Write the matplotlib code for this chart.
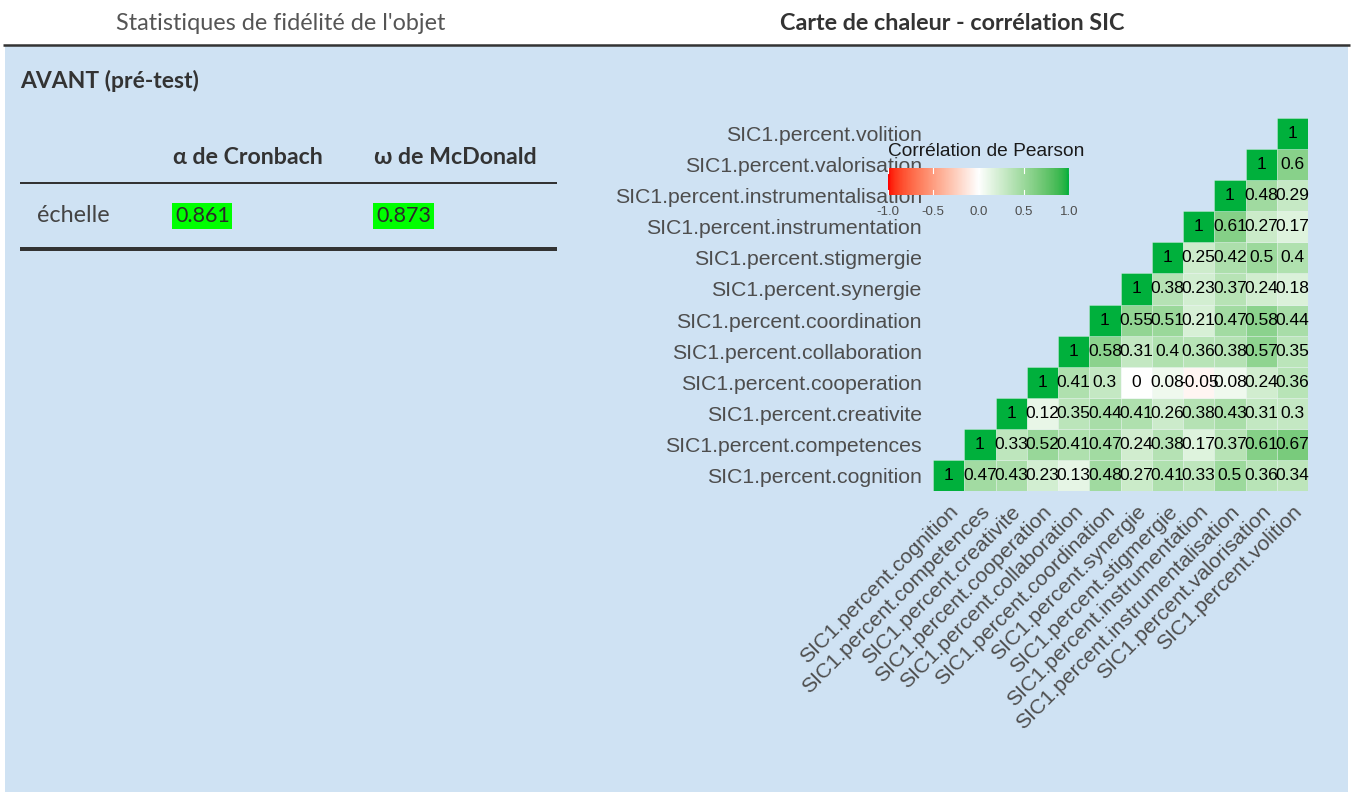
import numpy as np
import matplotlib
matplotlib.use("Agg")
import matplotlib.pyplot as plt
from matplotlib.colors import ListedColormap, to_rgb
from matplotlib.patches import Rectangle

# ---------------------------------------------------------------- data
variables = ["cognition", "competences", "creativite", "cooperation",
             "collaboration", "coordination", "synergie", "stigmergie",
             "instrumentation", "instrumentalisation", "valorisation",
             "volition"]
var_labels = ["SIC1.percent." + v for v in variables]

# Pearson correlations, row i holds r(i, j) for j >= i
row_cognition = [1, 0.47, 0.43, 0.23, 0.13, 0.48, 0.27, 0.41, 0.33, 0.5, 0.36, 0.34]
row_competences = [1, 0.33, 0.52, 0.41, 0.47, 0.24, 0.38, 0.17, 0.37, 0.61, 0.67]
row_creativite = [1, 0.12, 0.35, 0.44, 0.41, 0.26, 0.38, 0.43, 0.31, 0.3]
row_cooperation = [1, 0.41, 0.3, 0, 0.08, -0.05, 0.08, 0.24, 0.36]
row_collaboration = [1, 0.58, 0.31, 0.4, 0.36, 0.38, 0.57, 0.35]
row_coordination = [1, 0.55, 0.51, 0.21, 0.47, 0.58, 0.44]
row_synergie = [1, 0.38, 0.23, 0.37, 0.24, 0.18]
row_stigmergie = [1, 0.25, 0.42, 0.5, 0.4]
row_instrumentation = [1, 0.61, 0.27, 0.17]
row_instrumentalisation = [1, 0.48, 0.29]
row_valorisation = [1, 0.6]
row_volition = [1]

corr_rows = [row_cognition, row_competences, row_creativite, row_cooperation,
             row_collaboration, row_coordination, row_synergie, row_stigmergie,
             row_instrumentation, row_instrumentalisation, row_valorisation,
             row_volition]

# reliability table
table_columns = ["α de Cronbach", "ω de McDonald"]
table_row_label = "échelle"
table_values = [0.861, 0.873]

legend_ticks = [-1.0, -0.5, 0.0, 0.5, 1.0]

# ---------------------------------------------------------------- colours
BG_BLUE = "#cfe2f3"
LOW, MID, HIGH = "#ff0000", "#ffffff", "#00b03c"


def _srgb_to_lab(rgb):
    rgb = np.asarray(rgb, dtype=float)
    lin = np.where(rgb <= 0.04045, rgb / 12.92, ((rgb + 0.055) / 1.055) ** 2.4)
    m = np.array([[0.4124, 0.3576, 0.1805],
                  [0.2126, 0.7152, 0.0722],
                  [0.0193, 0.1192, 0.9505]])
    xyz = m @ lin / np.array([0.95047, 1.0, 1.08883])
    f = np.where(xyz > 216 / 24389, np.cbrt(xyz), (24389 / 27 * xyz + 16) / 116)
    return np.array([116 * f[1] - 16, 500 * (f[0] - f[1]), 200 * (f[1] - f[2])])


def _lab_to_srgb(lab):
    L, a, b = lab
    fy_ = (L + 16) / 116
    f = np.array([fy_ + a / 500, fy_, fy_ - b / 200])
    xyz = np.where(f ** 3 > 216 / 24389, f ** 3, (116 * f - 16) / (24389 / 27))
    xyz = xyz * np.array([0.95047, 1.0, 1.08883])
    m = np.array([[3.2406, -1.5372, -0.4986],
                  [-0.9689, 1.8758, 0.0415],
                  [0.0557, -0.2040, 1.0570]])
    lin = np.clip(m @ xyz, 0, 1)
    rgb = np.where(lin <= 0.0031308, 12.92 * lin, 1.055 * lin ** (1 / 2.4) - 0.055)
    return np.clip(rgb, 0, 1)


def diverging_lab_cmap(low, mid, high, n=256):
    lab_low, lab_mid, lab_high = (_srgb_to_lab(to_rgb(c)) for c in (low, mid, high))
    cols = []
    for t in np.linspace(-1, 1, n):
        if t < 0:
            lab = lab_mid + (lab_low - lab_mid) * (-t)
        else:
            lab = lab_mid + (lab_high - lab_mid) * t
        cols.append(_lab_to_srgb(lab))
    return ListedColormap(cols)


cmap = diverging_lab_cmap(LOW, MID, HIGH)

# ---------------------------------------------------------------- figure
W, H = 1353, 792
fig = plt.figure(figsize=(W / 100, H / 100), dpi=100)
fig.patch.set_facecolor("white")


def fx(px):
    return px / W


def fy(py):
    return 1 - py / H


def lw(px):
    return px * 72 / 100


# page layer in pixel coordinates
page = fig.add_axes([0, 0, 1, 1], zorder=0)
page.set_xlim(0, W)
page.set_ylim(H, 0)
page.axis("off")

page.add_patch(Rectangle((5, 46), W - 10, H - 46, facecolor=BG_BLUE,
                         edgecolor="none"))
page.plot([3, W - 3], [45, 45], color="#333333", lw=lw(2.5),
          solid_capstyle="butt")

SANS = ["Lato", "DejaVu Sans"]
page.text(281, 23, "Statistiques de fidélité de l'objet", ha="center",
          va="center", fontsize=16.8, color="#555555", family=SANS)
page.text(952, 23, "Carte de chaleur - corrélation SIC", ha="center",
          va="center", fontsize=16.8, color="#333333", fontweight="bold",
          family=SANS)
page.text(20, 81, "AVANT (pré-test)", ha="left", va="center", fontsize=16.5,
          color="#333333", fontweight="bold", family=SANS)

# reliability table
col_x = [173, 374]
for x, name in zip(col_x, table_columns):
    page.text(x, 158, name, ha="left", va="center", fontsize=16.7,
              color="#333333", fontweight="bold",
              family=["Lato", "DejaVu Serif"])
page.plot([20, 557], [182.5, 182.5], color="#333333", lw=lw(2),
          solid_capstyle="butt")
page.text(37, 216, table_row_label, ha="left", va="center", fontsize=16.8,
          color="#444444", family=SANS)
for x, v in zip(col_x, table_values):
    t = page.text(x + 2, 216, f"{v:.3f}", ha="left", va="center",
                  fontsize=15.5, color="#2a2a2a", family=SANS)
    t.set_bbox(dict(facecolor="#00ff00", edgecolor="none", pad=1.8))
page.plot([20, 557], [248.5, 248.5], color="#333333", lw=lw(4),
          solid_capstyle="butt")

# ---------------------------------------------------------------- heatmap
n = len(variables)
mat = np.full((n, n), np.nan)
for i, row in enumerate(corr_rows):
    for k, v in enumerate(row):
        mat[i, i + k] = v

hx0, hx1, hy0, hy1 = 933, 1308, 118, 491
ax = fig.add_axes([fx(hx0), fy(hy1), fx(hx1 - hx0), (hy1 - hy0) / H], zorder=2)
ax.patch.set_alpha(0)
norm = plt.Normalize(-1, 1)
for i in range(n):
    for j in range(i, n):
        v = mat[i, j]
        ax.add_patch(Rectangle((j, i), 1, 1, facecolor=cmap(norm(v)),
                               edgecolor=(1, 1, 1, 0.5), linewidth=0.4))
        ax.text(j + 0.5, i + 0.5, f"{v:g}", ha="center", va="center",
                fontsize=12.5, color="black", family="Liberation Sans")
ax.set_xlim(0, n)
ax.set_ylim(0, n)
for s in ax.spines.values():
    s.set_visible(False)
ax.set_xticks(np.arange(n) + 0.5)
ax.set_yticks(np.arange(n) + 0.5)
ax.set_xticklabels(var_labels, rotation=45, ha="right", va="top",
                   rotation_mode="anchor", fontsize=15.3, color="#4d4d4d",
                   family="Liberation Sans")
ax.set_yticklabels(var_labels, fontsize=15.3, color="#4d4d4d",
                   family="Liberation Sans")
ax.tick_params(axis="both", length=0)
ax.tick_params(axis="y", pad=8)
ax.tick_params(axis="x", pad=8)

# ---------------------------------------------------------------- legend
bx0, bx1, by0, by1 = 888, 1069, 168, 195
cax = fig.add_axes([fx(bx0), fy(by1), fx(bx1 - bx0), (by1 - by0) / H], zorder=3)
grad = np.linspace(-1, 1, 300)[None, :]
cax.imshow(grad, cmap=cmap, vmin=-1, vmax=1, aspect="auto",
           extent=(-1, 1, 0, 1))
cax.set_xlim(-1, 1)
cax.set_ylim(0, 1)
cax.axis("off")
for t in legend_ticks:
    cax.plot([t, t], [0, 0.2], color="white", lw=0.8)
    cax.plot([t, t], [0.8, 1], color="white", lw=0.8)
    cax.text(t, -0.62, f"{t:.1f}", ha="center", va="center", fontsize=9.5,
             color="#4d4d4d", family="Liberation Sans", clip_on=False)
cax.text(-1, 1.6, "Corrélation de Pearson", ha="left", va="center",
         fontsize=13.8, color="#1a1a1a", family="Liberation Sans",
         clip_on=False)

fig.savefig("out.png", dpi=100, facecolor=fig.get_facecolor())
